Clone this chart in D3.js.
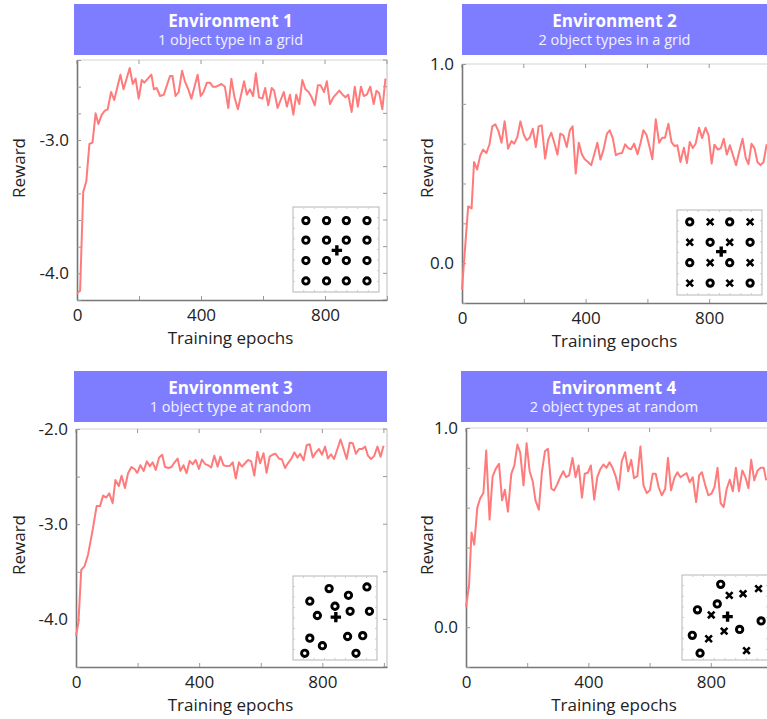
<!DOCTYPE html>
<html><head><meta charset="utf-8">
<script src="https://cdn.jsdelivr.net/npm/d3@7"></script>
<style>
body{margin:0;background:#fff}
svg{display:block}
text{font-family:"Open Sans",sans-serif}
</style>
</head><body>
<svg id="chart" width="767" height="719"></svg>
<script>
// ---------------- DATA ----------------
const titles = ["Environment 1","Environment 2","Environment 3","Environment 4"];
const subtitles = ["1 object type in a grid","2 object types in a grid","1 object type at random","2 object types at random"];

const env1Epochs = [0,10,20,30,40,50,60,69,80,90,99,110,120,140,150,170,180,189,199,209,217,240,248,257,268,280,300,308,318,328,339,348,359,369,389,399,408,419,429,438,449,466,477,488,498,508,519,539,548,558,568,577,587,598,607,617,628,636,647,667,677,687,698,707,717,727,737,747,757,767,777,786,797,806,816,827,846,857,866,875,886,896,906,916,925,935,946,957,966,975,985,995];
const env1Reward = [-4.15,-4.13,-3.39,-3.31,-3.03,-3.02,-2.80,-2.88,-2.81,-2.78,-2.77,-2.64,-2.70,-2.51,-2.62,-2.46,-2.58,-2.54,-2.69,-2.55,-2.57,-2.51,-2.62,-2.61,-2.67,-2.66,-2.52,-2.52,-2.67,-2.64,-2.48,-2.56,-2.62,-2.69,-2.51,-2.67,-2.64,-2.57,-2.57,-2.60,-2.60,-2.58,-2.60,-2.76,-2.54,-2.68,-2.77,-2.56,-2.66,-2.62,-2.67,-2.50,-2.68,-2.69,-2.61,-2.74,-2.61,-2.63,-2.76,-2.64,-2.75,-2.66,-2.81,-2.66,-2.73,-2.55,-2.62,-2.64,-2.68,-2.74,-2.59,-2.59,-2.64,-2.56,-2.73,-2.68,-2.63,-2.66,-2.68,-2.66,-2.79,-2.60,-2.75,-2.60,-2.67,-2.66,-2.60,-2.73,-2.63,-2.65,-2.77,-2.54];

const env2Epochs = [0,20,31,39,49,59,68,79,89,98,108,118,128,138,149,160,169,179,189,200,209,219,229,239,248,258,269,279,289,299,309,318,328,339,349,358,368,378,388,397,408,418,428,438,448,458,469,478,488,498,507,518,528,538,547,557,568,578,587,597,607,616,627,638,648,657,668,678,688,697,707,718,728,737,747,756,767,777,788,798,808,817,828,838,847,857,867,878,887,897,908,918,927,937,947,956,966,976,986];
const env2Reward = [-0.13,0.285,0.275,0.508,0.47,0.54,0.57,0.553,0.597,0.687,0.697,0.663,0.605,0.713,0.575,0.613,0.60,0.633,0.712,0.645,0.617,0.63,0.675,0.583,0.687,0.692,0.525,0.62,0.655,0.603,0.545,0.65,0.642,0.583,0.667,0.687,0.45,0.605,0.547,0.522,0.508,0.492,0.547,0.605,0.52,0.57,0.65,0.667,0.628,0.542,0.55,0.553,0.597,0.578,0.572,0.60,0.547,0.605,0.667,0.645,0.583,0.522,0.722,0.605,0.63,0.63,0.70,0.608,0.588,0.592,0.508,0.58,0.503,0.608,0.578,0.60,0.68,0.628,0.68,0.642,0.50,0.595,0.57,0.578,0.625,0.545,0.592,0.537,0.492,0.558,0.625,0.53,0.497,0.60,0.575,0.508,0.492,0.508,0.597];

const env3Epochs = [0,8,17,28,39,53,67,78,88,98,108,119,128,139,148,159,169,180,190,199,209,220,230,240,249,259,270,280,289,300,310,319,330,339,349,359,369,379,389,399,409,420,429,439,449,460,469,479,489,500,509,519,529,539,549,559,569,579,589,598,609,619,629,638,648,659,669,679,688,699,709,719,728,739,749,759,769,778,789,799,809,818,828,838,849,859,868,879,889,899,909,919,929,939,948,958,968,979,989,999];
const env3Reward = [-4.17,-4.03,-3.48,-3.44,-3.32,-3.08,-2.81,-2.81,-2.70,-2.72,-2.675,-2.78,-2.535,-2.60,-2.49,-2.62,-2.465,-2.40,-2.42,-2.46,-2.38,-2.44,-2.34,-2.39,-2.35,-2.43,-2.30,-2.27,-2.40,-2.41,-2.40,-2.355,-2.31,-2.44,-2.38,-2.465,-2.335,-2.37,-2.325,-2.42,-2.32,-2.37,-2.38,-2.405,-2.28,-2.395,-2.29,-2.38,-2.39,-2.385,-2.35,-2.52,-2.35,-2.395,-2.36,-2.325,-2.34,-2.49,-2.24,-2.36,-2.255,-2.46,-2.29,-2.27,-2.26,-2.31,-2.32,-2.41,-2.36,-2.315,-2.245,-2.30,-2.26,-2.33,-2.17,-2.16,-2.30,-2.25,-2.21,-2.27,-2.185,-2.31,-2.265,-2.315,-2.21,-2.11,-2.20,-2.315,-2.145,-2.15,-2.26,-2.21,-2.21,-2.185,-2.28,-2.315,-2.285,-2.185,-2.29,-2.175];

const env4Epochs = [0,10,18,27,37,46,57,66,77,87,97,108,118,127,137,148,158,168,177,188,198,208,218,227,238,248,258,268,279,288,298,308,318,327,337,348,358,368,379,388,398,408,419,429,438,449,459,469,479,490,499,509,520,530,540,549,560,570,580,591,601,610,620,630,640,651,660,670,681,691,701,712,721,731,741,752,762,771,781,792,802,812,822,832,842,852,862,872,882,892,903,913,923,932,942,953,963,973,981];
const env4Reward = [0.10,0.21,0.475,0.414,0.60,0.645,0.675,0.887,0.54,0.757,0.795,0.82,0.637,0.69,0.58,0.77,0.812,0.917,0.878,0.712,0.923,0.783,0.733,0.637,0.59,0.778,0.883,0.895,0.695,0.687,0.717,0.753,0.783,0.753,0.762,0.85,0.753,0.812,0.65,0.77,0.775,0.812,0.64,0.753,0.79,0.817,0.80,0.828,0.80,0.753,0.69,0.833,0.878,0.783,0.84,0.748,0.758,0.907,0.712,0.673,0.687,0.77,0.77,0.70,0.662,0.695,0.85,0.687,0.75,0.778,0.753,0.765,0.773,0.728,0.753,0.628,0.762,0.778,0.717,0.662,0.67,0.703,0.80,0.623,0.603,0.695,0.74,0.682,0.80,0.683,0.787,0.753,0.698,0.84,0.737,0.787,0.80,0.80,0.737];

const xTicks = [0,200,400,600,800,1000];
const xTickLabels = {0:"0",400:"400",800:"800"};
const yTicks1 = [-4.2,-4.0,-3.8,-3.6,-3.4,-3.2,-3.0,-2.8,-2.6,-2.4];
const yLabels1 = {"-4":"-4.0","-3":"-3.0"};
const yTicks2 = [-0.2,0,0.2,0.4,0.6,0.8,1.0];
const yLabels2 = {"0":"0.0","1":"1.0"};
const yTicks3 = [-4.5,-4.0,-3.5,-3.0,-2.5,-2.0];
const yLabels3 = {"-4":"-4.0","-3":"-3.0","-2":"-2.0"};
const yTicks4 = [-0.2,0,0.2,0.4,0.6,0.8,1.0];
const yLabels4 = {"0":"0.0","1":"1.0"};

// Inset object layouts (type, u, v) in inset-relative units
const inset1Types = ["o","o","o","o","o","o","o","o","o","o","o","o","o","o","o","o","+"];
const inset1U = [0.15,0.39,0.62,0.86,0.15,0.39,0.62,0.86,0.15,0.39,0.62,0.86,0.15,0.39,0.62,0.86,0.51];
const inset1V = [0.16,0.16,0.16,0.16,0.39,0.39,0.39,0.39,0.63,0.63,0.63,0.63,0.87,0.87,0.87,0.87,0.51];
const inset2Types = ["o","x","o","x","x","o","x","o","o","x","o","x","x","o","x","o","+"];
const inset2U = [0.15,0.39,0.62,0.86,0.15,0.39,0.62,0.86,0.15,0.39,0.62,0.86,0.15,0.39,0.62,0.86,0.52];
const inset2V = [0.14,0.14,0.14,0.14,0.38,0.38,0.38,0.38,0.62,0.62,0.62,0.62,0.86,0.86,0.86,0.86,0.49];
const inset3Types = ["o","o","o","o","o","o","o","o","o","o","o","o","o","o","+"];
const inset3U = [0.43,0.88,0.20,0.66,0.50,0.29,0.68,0.91,0.20,0.65,0.83,0.35,0.14,0.75,0.51];
const inset3V = [0.15,0.13,0.30,0.23,0.36,0.47,0.42,0.42,0.74,0.72,0.71,0.83,0.92,0.92,0.49];
const inset4Types = ["o","x","x","x","o","o","x","+","o","o","x","x","o","o","x"];
const inset4U = [0.45,0.55,0.71,0.89,0.41,0.18,0.34,0.53,0.92,0.12,0.31,0.49,0.67,0.21,0.75];
const inset4V = [0.11,0.24,0.22,0.16,0.34,0.41,0.47,0.49,0.54,0.71,0.75,0.66,0.64,0.92,0.89];

// ---------------- LAYOUT ----------------
const panels = [
  {epochs:env1Epochs, reward:env1Reward, xMax:1000, yDom:[-4.2,-2.4], yTicks:yTicks1, yLabels:yLabels1,
   plot:{x0:77,x1:387,y0:60,y1:300}, header:{x0:74,x1:387,y0:4,y1:55}, rewardX:25, rewardY:168,
   inset:{x0:293,x1:379,y0:207,y1:292}, types:inset1Types, u:inset1U, v:inset1V},
  {epochs:env2Epochs, reward:env2Reward, xMax:1000, yDom:[-0.2,1.0], yTicks:yTicks2, yLabels:yLabels2,
   plot:{x0:462,x1:771,y0:64,y1:303}, header:{x0:462,x1:767,y0:4,y1:55}, rewardX:433, rewardY:168,
   inset:{x0:677,x1:762,y0:210,y1:295}, types:inset2Types, u:inset2U, v:inset2V},
  {epochs:env3Epochs, reward:env3Reward, xMax:1010, yDom:[-4.5,-2.0], yTicks:yTicks3, yLabels:yLabels3,
   plot:{x0:76,x1:387,y0:429,y1:667}, header:{x0:74,x1:387,y0:371,y1:422}, rewardX:25, rewardY:545,
   inset:{x0:293,x1:377,y0:576,y1:660}, types:inset3Types, u:inset3U, v:inset3V},
  {epochs:env4Epochs, reward:env4Reward, xMax:1000, yDom:[-0.2,1.0], yTicks:yTicks4, yLabels:yLabels4,
   plot:{x0:466,x1:772,y0:428,y1:667}, header:{x0:461,x1:767,y0:371,y1:422}, rewardX:433, rewardY:545,
   inset:{x0:682,x1:768,y0:575,y1:660}, types:inset4Types, u:inset4U, v:inset4V}
];

const svg = d3.select("#chart");
const LINE = "#ff7b7b";
const fmtKey = v => String(Math.round(v*1000)/1000);

panels.forEach((p, i) => {
  const g = svg.append("g");
  const x = d3.scaleLinear().domain([0, p.xMax]).range([p.plot.x0, p.plot.x1]);
  const y = d3.scaleLinear().domain(p.yDom).range([p.plot.y1, p.plot.y0]);

  // header
  const h = p.header;
  g.append("rect").attr("x", h.x0).attr("y", h.y0).attr("width", h.x1 - h.x0).attr("height", h.y1 - h.y0)
    .attr("fill", "#7f7dff");
  const hc = (h.x0 + h.x1) / 2;
  g.append("text").attr("x", hc).attr("y", h.y0 + 23).attr("text-anchor", "middle")
    .attr("font-size", 17).attr("font-weight", 700).attr("fill", "#fff").text(titles[i]);
  g.append("text").attr("x", hc).attr("y", h.y0 + 41).attr("text-anchor", "middle")
    .attr("font-size", 14.5).attr("fill", "#f2f2ff").text(subtitles[i]);

  // frame (top / right light)
  g.append("line").attr("x1", p.plot.x0).attr("x2", p.plot.x1).attr("y1", p.plot.y0).attr("y2", p.plot.y0)
    .attr("stroke", "#d4d4d4").attr("stroke-width", 1);
  g.append("line").attr("x1", p.plot.x1).attr("x2", p.plot.x1).attr("y1", p.plot.y0).attr("y2", p.plot.y1)
    .attr("stroke", "#bdbdbd").attr("stroke-width", 1);
  // top ticks
  g.append("g").selectAll("line").data(xTicks).join("line")
    .attr("x1", d => x(d)).attr("x2", d => x(d)).attr("y1", p.plot.y0).attr("y2", p.plot.y0 + 4)
    .attr("stroke", "#999").attr("stroke-width", 1);
  // right ticks
  g.append("g").selectAll("line").data(p.yTicks).join("line")
    .attr("x1", p.plot.x1).attr("x2", p.plot.x1 - 4).attr("y1", d => y(d)).attr("y2", d => y(d))
    .attr("stroke", "#999").attr("stroke-width", 1);

  // axes
  const ax = g.append("g").attr("transform", `translate(0,${p.plot.y1})`)
    .call(d3.axisBottom(x).tickValues(xTicks).tickSizeInner(-4).tickSizeOuter(0).tickPadding(9)
      .tickFormat(d => xTickLabels[d] || ""));
  const ay = g.append("g").attr("transform", `translate(${p.plot.x0},0)`)
    .call(d3.axisLeft(y).tickValues(p.yTicks).tickSizeInner(-4).tickSizeOuter(0).tickPadding(8)
      .tickFormat(d => p.yLabels[fmtKey(d)] || ""));
  [ax, ay].forEach(a => {
    a.select(".domain").attr("stroke", "#777").attr("stroke-width", 1.6);
    a.selectAll(".tick line").attr("stroke", "#999");
    a.selectAll(".tick text").attr("font-size", 17).attr("fill", "#222")
      .style("font-family", '"Open Sans",sans-serif');
  });

  // line
  const pts = p.epochs.map((e, k) => [e, p.reward[k]]);
  g.append("path").datum(pts)
    .attr("fill", "none").attr("stroke", LINE).attr("stroke-width", 2).attr("stroke-linejoin", "round")
    .attr("d", d3.line().x(d => x(d[0])).y(d => y(d[1])));

  // axis titles
  g.append("text").attr("x", hc).attr("y", p.plot.y1 + 44).attr("text-anchor", "middle")
    .attr("font-size", 17).attr("fill", "#222").text("Training epochs");
  g.append("text").attr("transform", `translate(${p.rewardX},${p.rewardY}) rotate(-90)`)
    .attr("text-anchor", "middle").attr("font-size", 17).attr("fill", "#222").text("Reward");

  // inset
  const ins = p.inset;
  const iu = d3.scaleLinear().domain([0, 1]).range([ins.x0, ins.x1]);
  const iv = d3.scaleLinear().domain([0, 1]).range([ins.y0, ins.y1]);
  const ig = g.append("g");
  ig.append("rect").attr("x", ins.x0).attr("y", ins.y0).attr("width", ins.x1 - ins.x0).attr("height", ins.y1 - ins.y0)
    .attr("fill", "#fff").attr("stroke", "#b5b5b5").attr("stroke-width", 1);
  const minor = d3.range(1, 8).map(k => k / 8);
  minor.forEach(t => {
    ig.append("line").attr("x1", iu(t)).attr("x2", iu(t)).attr("y1", ins.y0).attr("y2", ins.y0 + 2).attr("stroke", "#ccc");
    ig.append("line").attr("x1", iu(t)).attr("x2", iu(t)).attr("y1", ins.y1).attr("y2", ins.y1 - 2).attr("stroke", "#ccc");
    ig.append("line").attr("y1", iv(t)).attr("y2", iv(t)).attr("x1", ins.x0).attr("x2", ins.x0 + 2).attr("stroke", "#ccc");
    ig.append("line").attr("y1", iv(t)).attr("y2", iv(t)).attr("x1", ins.x1).attr("x2", ins.x1 - 2).attr("stroke", "#ccc");
  });
  p.types.forEach((t, k) => {
    const cx = iu(p.u[k]), cy = iv(p.v[k]);
    if (t === "o") {
      ig.append("circle").attr("cx", cx).attr("cy", cy).attr("r", 3.2)
        .attr("fill", "none").attr("stroke", "#000").attr("stroke-width", 2.9);
    } else if (t === "x") {
      const s = 3.3;
      ig.append("path").attr("d", `M${cx-s},${cy-s}L${cx+s},${cy+s}M${cx-s},${cy+s}L${cx+s},${cy-s}`)
        .attr("stroke", "#000").attr("stroke-width", 2.6);
    } else {
      const s = 5.2;
      ig.append("path").attr("d", `M${cx-s},${cy}L${cx+s},${cy}M${cx},${cy-s}L${cx},${cy+s}`)
        .attr("stroke", "#000").attr("stroke-width", 3.4);
    }
  });
});
</script>
</body></html>
